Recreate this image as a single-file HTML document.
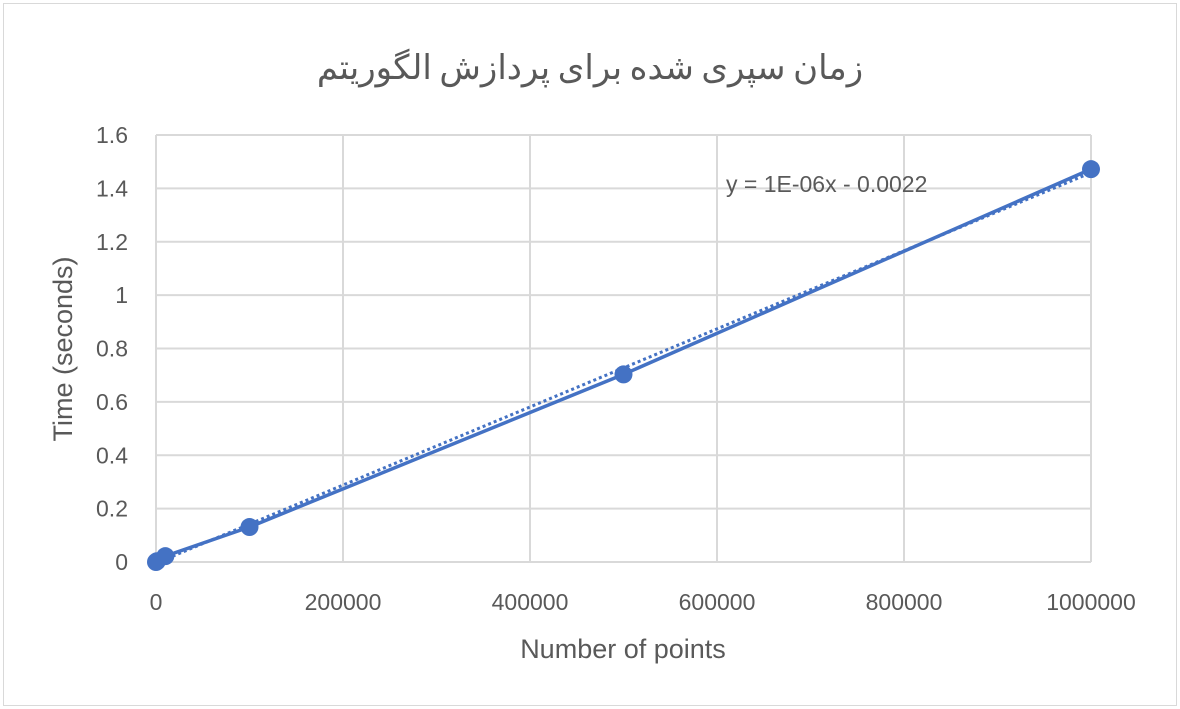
<!DOCTYPE html>
<html><head><meta charset="utf-8"><style>
body{margin:0;background:#fff}
svg{display:block;font-family:"Liberation Sans","Noto Sans CJK SC",sans-serif}
</style></head><body>
<svg id="c" width="1180" height="709">
<rect x="3.5" y="3.5" width="1173" height="702" fill="#fff" stroke="#d9d9d9"/>
<text x="590" y="79" text-anchor="middle" font-size="34" fill="#595959" font-family="'Noto Sans CJK SC','DejaVu Sans',sans-serif">زمان سپری شده برای پردازش الگوریتم</text>
<g id="grid"></g><g id="ticks"></g><g id="series"></g>
<text x="623" y="658" text-anchor="middle" font-size="27" fill="#595959">Number of points</text>
<text transform="translate(72,349) rotate(-90)" text-anchor="middle" font-size="27" fill="#595959">Time (seconds)</text>
<text x="726" y="192" font-size="23" fill="#595959">y = 1E-06x - 0.0022</text>
</svg>
<script>
const xVals=[0,1000,10000,100000,500000,1000000];
const yVals=[0,0.003,0.022,0.131,0.703,1.472];
const xTicks=[0,200000,400000,600000,800000,1000000];
const yTicks=[0,0.2,0.4,0.6,0.8,1,1.2,1.4,1.6];
const X0=156,X1=1091,Y0=562,Y1=135;
const sx=v=>X0+(v/1000000)*(X1-X0);
const sy=v=>Y0-(v/1.6)*(Y0-Y1);
const NS="http://www.w3.org/2000/svg";
function mk(t,a,p){const e=document.createElementNS(NS,t);for(const k in a)e.setAttribute(k,a[k]);p.appendChild(e);return e;}
const g=document.getElementById('grid'),tk=document.getElementById('ticks'),s=document.getElementById('series');
yTicks.forEach(v=>{
 const l=mk('line',{x1:X0,x2:X1,y1:sy(v),y2:sy(v),stroke:'#d9d9d9','stroke-width':2},g);
 
 
 const t=mk('text',{x:128,y:sy(v)+8,'text-anchor':'end','font-size':23,fill:'#595959'},tk);
 t.textContent=String(v);
 
 
});
xTicks.forEach(v=>{
 const l=mk('line',{x1:sx(v),x2:sx(v),y1:Y1,y2:Y0,stroke:'#d9d9d9','stroke-width':2},g);
 
 
 const t=mk('text',{x:sx(v),y:610,'text-anchor':'middle','font-size':23,fill:'#595959'},tk);
 t.textContent=String(v);
 
 
});
const n=xVals.length,mx=xVals.reduce((a,b)=>a+b)/n,my=yVals.reduce((a,b)=>a+b)/n;
let num=0,den=0;xVals.forEach((x,i)=>{num+=(x-mx)*(yVals[i]-my);den+=(x-mx)**2;});
const m=num/den,b=my-m*mx;
const tr=mk('line',{x1:sx(0),y1:sy(b),x2:sx(1000000),y2:sy(m*1000000+b),stroke:'#4472c4','stroke-width':3,'stroke-dasharray':'3 3'},s);


const pl=mk('polyline',{points:xVals.map((x,i)=>sx(x)+','+sy(yVals[i])).join(' '),fill:'none',stroke:'#4472c4','stroke-width':3.5},s);


xVals.forEach((x,i)=>{
 const c=mk('circle',{cx:sx(x),cy:sy(yVals[i]),r:9,fill:'#4472c4'},s);
 
 
});
</script>
</body></html>
